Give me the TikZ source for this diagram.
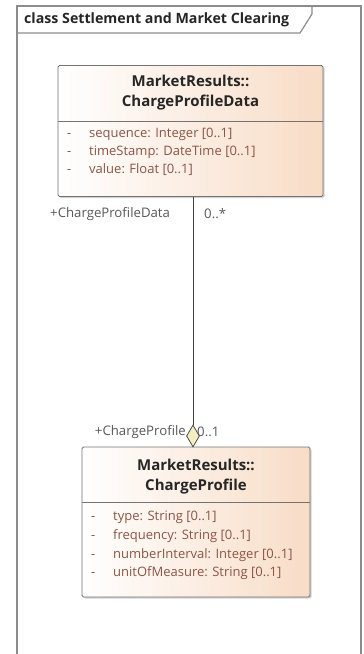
\documentclass[tikz,border=0pt]{standalone}
\usepackage{fontspec}
\setmainfont{Open Sans}
\usetikzlibrary{shapes.geometric,shadows}
\definecolor{peach}{HTML}{F8DCC6}
\definecolor{attrc}{HTML}{8A5546}
\definecolor{framec}{HTML}{8C8C8C}
\definecolor{dia}{HTML}{F3EDC2}
\tikzset{
  classbox/.style={draw=black!55, line width=0.8pt, left color=white, right color=peach, rounded corners=1.5pt,
     drop shadow={shadow xshift=1.5pt, shadow yshift=-1.5pt, fill=black!35}, inner sep=0pt},
  ctitle/.style={font=\fontsize{15}{20}\selectfont\bfseries, text=black!85, align=center, inner sep=0pt},
  attr/.style={font=\fontsize{13}{16}\selectfont, text=attrc, anchor=west, inner sep=0pt},
  role/.style={font=\fontsize{13.2}{15}\selectfont, text=black!65, inner sep=0pt},
  divline/.style={draw=black!55, line width=0.8pt},
  assoc/.style={draw=black!75, line width=0.9pt},
}
\newcommand{\attrdash}{\makebox[22pt][l]{-}}
\begin{document}
\begin{tikzpicture}[x=1pt,y=-1pt]
\useasboundingbox (0,0) rectangle (364,654);
\fill[white] (0,0) rectangle (364,654);
% frame
\draw[framec, line width=1.4pt] (17,660) -- (17,6) -- (361,6) -- (361,660);
\draw[framec, line width=1.2pt] (17,33) -- (300,33) -- (312,14) -- (312,6);
\node[font=\fontsize{14.2}{16}\selectfont\bfseries, anchor=west, inner sep=0pt, text=black!85] (frametitle) at (24,20) {class Settlement and Market Clearing};

% top class
\node[classbox, minimum width=265pt, minimum height=131pt] (cpd) at (190.5,131) {};
\draw[divline] (58,121) -- (323,121);
\node[ctitle] (cpdt) at (190.5,93) {MarketResults::\\ChargeProfileData};
\node[attr] (a1) at (67,134) {\attrdash sequence: Integer [0..1]};
\node[attr] (a2) at (67,152) {\attrdash timeStamp: DateTime [0..1]};
\node[attr] (a3) at (67,170) {\attrdash value: Float [0..1]};

% bottom class
\node[classbox, minimum width=228pt, minimum height=150pt] (cp) at (196,522) {};
\draw[divline] (82,502) -- (310,502);
\node[ctitle] (cpt) at (196,477) {MarketResults::\\ChargeProfile};
\node[attr] (b1) at (91,517) {\attrdash type: String [0..1]};
\node[attr] (b2) at (91,536) {\attrdash frequency: String [0..1]};
\node[attr] (b3) at (91,555) {\attrdash numberInterval: Integer [0..1]};
\node[attr] (b4) at (91,573) {\attrdash unitOfMeasure: String [0..1]};

% aggregation
\node[diamond, draw=black!70, fill=dia, line width=0.8pt, minimum width=13pt, minimum height=22pt, inner sep=0pt] (dm) at (193,436) {};
\draw[assoc] (cpd.south -| dm.north) -- (dm.north);

\node[role, anchor=west] (r1) at (50,214) {+ChargeProfileData};
\node[role, anchor=west] (m1) at (204,214) {0..*};
\node[role, anchor=east] (r2) at (186,432) {+ChargeProfile};
\node[role, anchor=west] (m2) at (197,432) {0..1};
\end{tikzpicture}
\end{document}
